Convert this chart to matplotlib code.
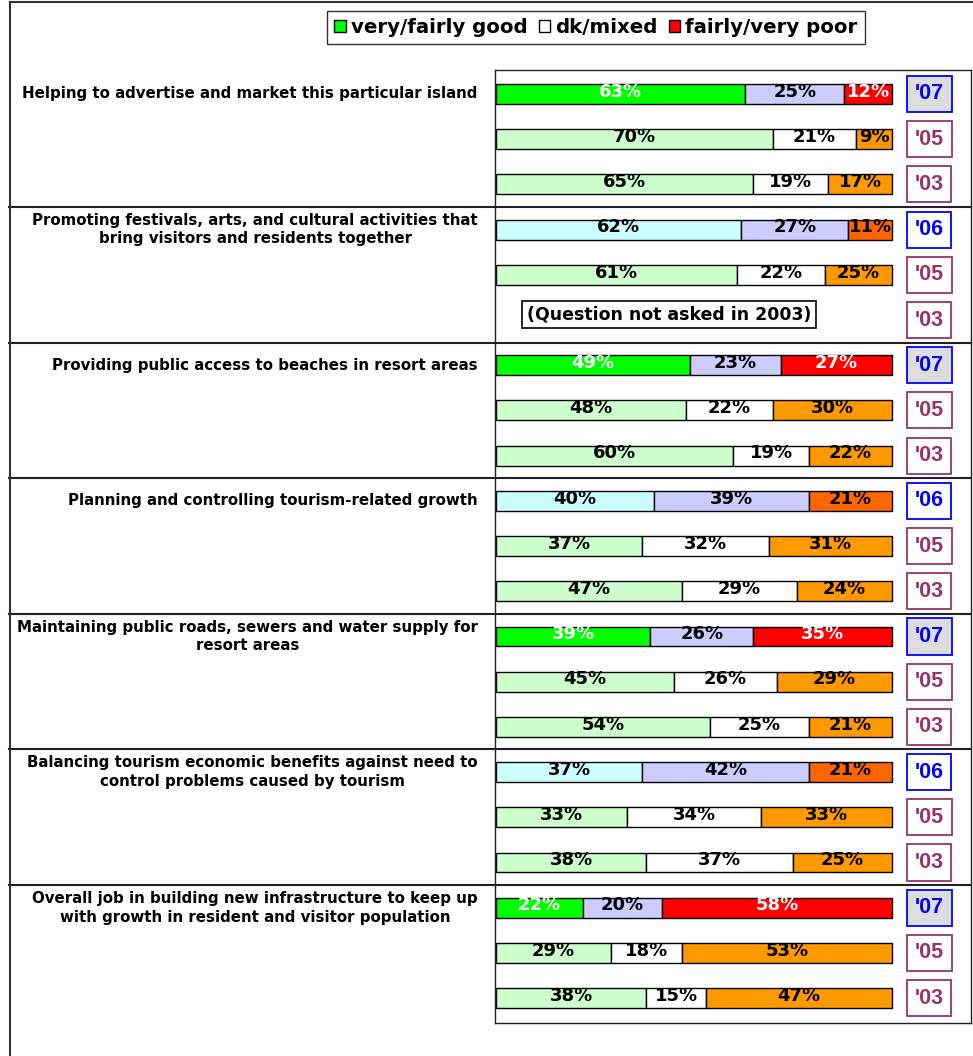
import matplotlib.pyplot as plt
from matplotlib.patches import Patch
from matplotlib.lines import Line2D
import matplotlib.transforms as mtransforms

plt.rcParams['font.family'] = ['Liberation Sans', 'DejaVu Sans']
plt.rcParams['font.weight'] = 'bold'

questions = [
    "Helping to advertise and market this particular island",
    "Promoting festivals, arts, and cultural activities that\nbring visitors and residents together",
    "Providing public access to beaches in resort areas",
    "Planning and controlling tourism-related growth",
    "Maintaining public roads, sewers and water supply for\nresort areas",
    "Balancing tourism economic benefits against need to\ncontrol problems caused by tourism",
    "Overall job in building new infrastructure to keep up\nwith growth in resident and visitor population",
]
latest_year = ["'07", "'06", "'07", "'06", "'07", "'06", "'07"]

# [latest, '05, '03] per question; None = not asked
good = [[63, 70, 65], [62, 61, None], [49, 48, 60], [40, 37, 47],
        [39, 45, 54], [37, 33, 38], [22, 29, 38]]
mixed = [[25, 21, 19], [27, 22, None], [23, 22, 19], [39, 32, 29],
         [26, 26, 25], [42, 34, 37], [20, 18, 15]]
poor = [[12, 9, 17], [11, 25, None], [27, 30, 22], [21, 31, 24],
        [35, 29, 21], [21, 33, 25], [58, 53, 47]]

colors_07 = ["#00FF00", "#CCCCFF", "#FF0000"]
colors_06 = ["#CCFFFF", "#CCCCFF", "#FF6600"]
colors_old = ["#CCFFCC", "#FFFFFF", "#FF9900"]

fig = plt.figure(figsize=(9.73, 10.56), dpi=100)
ax = fig.add_axes([495 / 973, 1 - 1023 / 1056, 476 / 973, 953 / 1056])
ax.set_xlim(-0.25, 120)
ax.set_ylim(20.55, -0.53)
ax.set_xticks([])
ax.set_yticks([])
for s in ax.spines.values():
    s.set_linewidth(1.0)
    s.set_color("#222222")

trans = mtransforms.blended_transform_factory(ax.transAxes, ax.transData)
h = 0.44

for q in range(len(questions)):
    for r in range(3):
        y = q * 3 + r
        if r == 0:
            year = latest_year[q]
            cols = colors_07 if year == "'07" else colors_06
        else:
            year = ["'05", "'03"][r - 1]
            cols = colors_old
        g, m, p = good[q][r], mixed[q][r], poor[q][r]
        if g is not None:
            widths = [g, m, 100 - g - m]
            lefts = [0, g, g + m]
            for w, l, c, v in zip(widths, lefts, cols, [g, m, p]):
                ax.barh(y, w, left=l, height=h, color=c, edgecolor="black", linewidth=1)
                tc = "white" if (year == "'07" and c in ("#00FF00", "#FF0000")) else "black"
                ax.text(l + w / 2, y - 0.05, f"{v}%", ha="center", va="center",
                        fontsize=13, fontweight="bold", color=tc, family="DejaVu Sans")
        else:
            ax.text(43.7, y - 0.12, "(Question not asked in 2003)", ha="center", va="center",
                    fontsize=12.5, fontweight="bold", family="DejaVu Sans",
                    bbox=dict(boxstyle="square,pad=0.25", fc="white", ec="black", lw=1.2))
        if year == "'07":
            yc, fc, ec = "#0000FF", "#DDDDDD", "#0000FF"
        elif year == "'06":
            yc, fc, ec = "#0000FF", "white", "#0000FF"
        else:
            yc, fc, ec = "#993366", "white", "#993366"
        ax.text(109.5, y, year, ha="center", va="center", fontsize=15.5,
                fontweight="bold", color=yc,
                bbox=dict(boxstyle="square,pad=0.35", fc=fc, ec=ec, lw=1.3))
    # question label next to first row
    ax.text(-0.036, q * 3, questions[q], transform=trans, ha="right", va="center",
            multialignment="center", fontsize=10.8, fontweight="bold",
            linespacing=1.3, family="DejaVu Sans")
    if q > 0:
        ys = q * 3 - 0.5
        ax.plot([-1.02, 1.0], [ys, ys], transform=trans, color="#222222",
                lw=1.5, clip_on=False)

# outer frame lines
fig.add_artist(Line2D([10 / 973, 10 / 973], [0, 1 - 2 / 1056], color="#333333", lw=1.5))
fig.add_artist(Line2D([10 / 973, 1], [1 - 2 / 1056, 1 - 2 / 1056], color="#333333", lw=1.5))

handles = [Patch(fc="#00FF00", ec="black", lw=1),
           Patch(fc="white", ec="black", lw=1),
           Patch(fc="#FF0000", ec="black", lw=1)]
leg = fig.legend(handles, ["very/fairly good", "dk/mixed", "fairly/very poor"],
                 loc="center", bbox_to_anchor=(596 / 973, 1 - 27.5 / 1056), ncol=3,
                 fontsize=14.2, frameon=True, fancybox=False, edgecolor="black",
                 prop={"family": "DejaVu Sans", "weight": "bold", "size": 14.2},
                 handlelength=0.6, handleheight=0.6, handletextpad=0.25,
                 columnspacing=0.55, borderpad=0.35, borderaxespad=0)
leg.get_frame().set_linewidth(1)

fig.savefig("out.png", dpi=100, facecolor="white")
